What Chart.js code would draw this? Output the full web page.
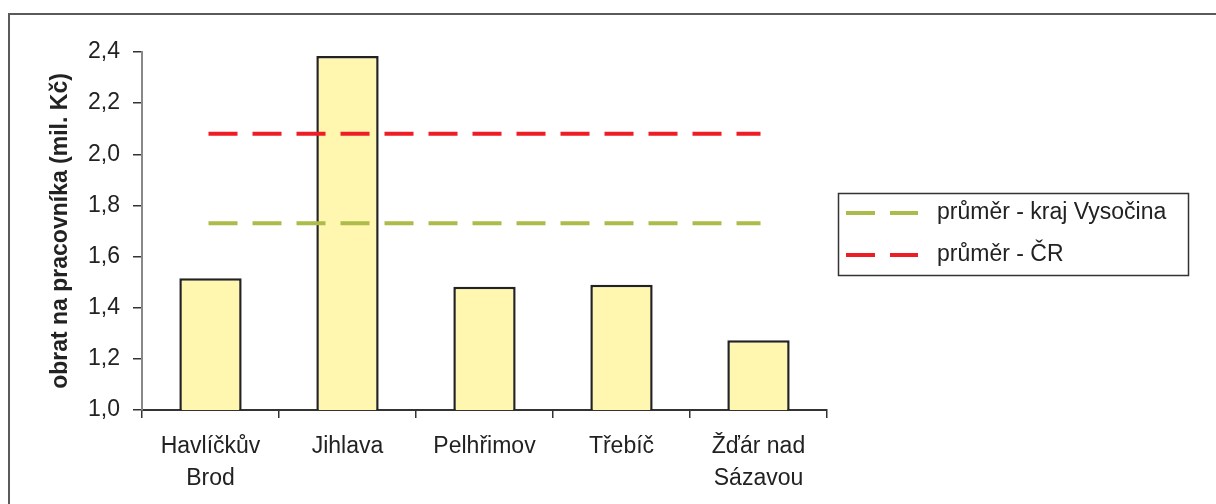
<!DOCTYPE html>
<html><head><meta charset="utf-8">
<script src="https://cdn.jsdelivr.net/npm/chart.js@4/dist/chart.umd.min.js"></script>
<style>html,body{margin:0;padding:0;background:#fff}#wrap{width:1216px;height:504px;position:relative}</style>
</head><body><div id="wrap"><canvas id="c" width="1216" height="504"></canvas></div>
<script>
const categories = [["Havlíčkův","Brod"], "Jihlava", "Pelhřimov", "Třebíč", ["Žďár nad","Sázavou"]];
const turnoverPerWorker = [1.515, 2.384, 1.482, 1.490, 1.273];
const avgVysocina = [1.73, 1.73, 1.73, 1.73, 1.73];
const avgCR = [2.08, 2.08, 2.08, 2.08, 2.08];
const seriesLabels = ["obrat na pracovníka", "průměr - kraj Vysočina", "průměr - ČR"];
const yAxisTitle = "obrat na pracovníka (mil. Kč)";
const yMin = 1.0, yMax = 2.4, yStep = 0.2;

const FONT = '"Liberation Sans", Arial, sans-serif';

const framePlugin = {
  id: 'frame',
  beforeDraw(chart) {
    const ctx = chart.ctx;
    ctx.save();
    ctx.fillStyle = '#fff';
    ctx.fillRect(0, 0, chart.width, chart.height);
    ctx.strokeStyle = '#5a5a5a';
    ctx.lineWidth = 2;
    ctx.beginPath();
    ctx.moveTo(9, chart.height);
    ctx.lineTo(9, 14);
    ctx.lineTo(chart.width, 14);
    ctx.stroke();
    ctx.restore();
  }
};

const legendPlugin = {
  id: 'customLegend',
  afterDraw(chart) {
    const ctx = chart.ctx;
    const x0 = 838, y0 = 193, w = 350, h = 82;
    ctx.save();
    ctx.strokeStyle = '#333';
    ctx.lineWidth = 1.5;
    ctx.strokeRect(x0 + 0.5, y0 + 0.5, w, h);
    const items = [chart.data.datasets[1], chart.data.datasets[2]];
    const rows = [213, 255];
    items.forEach((ds, i) => {
      const y = rows[i];
      ctx.strokeStyle = ds.borderColor;
      ctx.lineWidth = 4;
      ctx.lineCap = 'square';
      ctx.setLineDash([25, 19]);
      ctx.beginPath();
      ctx.moveTo(848, y);
      ctx.lineTo(916, y);
      ctx.stroke();
      ctx.setLineDash([]);
      ctx.fillStyle = '#222';
      ctx.font = '23px ' + FONT;
      ctx.textBaseline = 'middle';
      ctx.textAlign = 'left';
      ctx.fillText(ds.label, 937, y);
    });
    ctx.restore();
  }
};

new Chart(document.getElementById('c'), {
  data: {
    labels: categories,
    datasets: [
      {
        type: 'bar', label: seriesLabels[0], data: turnoverPerWorker,
        backgroundColor: '#fff6b0', borderColor: '#222', borderWidth: 2.5,
        barPercentage: 0.455, categoryPercentage: 1.0, order: 2
      },
      {
        type: 'line', label: seriesLabels[1], data: avgVysocina,
        borderColor: '#adbb4a', borderWidth: 4, borderDash: [25, 19], borderCapStyle: 'square',
        pointRadius: 0, fill: false, order: 1
      },
      {
        type: 'line', label: seriesLabels[2], data: avgCR,
        borderColor: '#ee1c25', borderWidth: 4, borderDash: [25, 19], borderCapStyle: 'square',
        pointRadius: 0, fill: false, order: 1
      }
    ]
  },
  options: {
    responsive: false,
    animation: false,
    devicePixelRatio: 1,
    layout: { padding: { left: 0, right: 389, top: 52, bottom: 0 } },
    plugins: { legend: { display: false }, tooltip: { enabled: false } },
    scales: {
      x: {
        offset: true,
        grid: { display: true, offset: true, drawOnChartArea: false, drawTicks: true, tickLength: 8, color: '#333', lineWidth: 1.5 },
        border: { display: true, color: '#333', width: 2 },
        ticks: { color: '#222', font: { family: FONT, size: 23, lineHeight: 1.39 }, padding: 13, maxRotation: 0, autoSkip: false },
        afterFit(s) { s.height = 94; }
      },
      y: {
        min: yMin, max: yMax,
        grid: { display: true, drawOnChartArea: false, drawTicks: true, tickLength: 9, color: '#333', lineWidth: 1.5 },
        border: { display: true, color: '#888', width: 2 },
        ticks: {
          stepSize: yStep, color: '#222', padding: 13,
          font: { family: FONT, size: 23 },
          callback: v => Number(v).toFixed(1).replace('.', ',')
        },
        title: { display: true, text: yAxisTitle, color: '#222', font: { family: FONT, size: 23, weight: 'bold', lineHeight: 1.2 }, padding: { top: 47, bottom: 0 } },
        afterFit(s) { s.width = 142; }
      }
    }
  },
  plugins: [framePlugin, legendPlugin]
});
</script></body></html>
